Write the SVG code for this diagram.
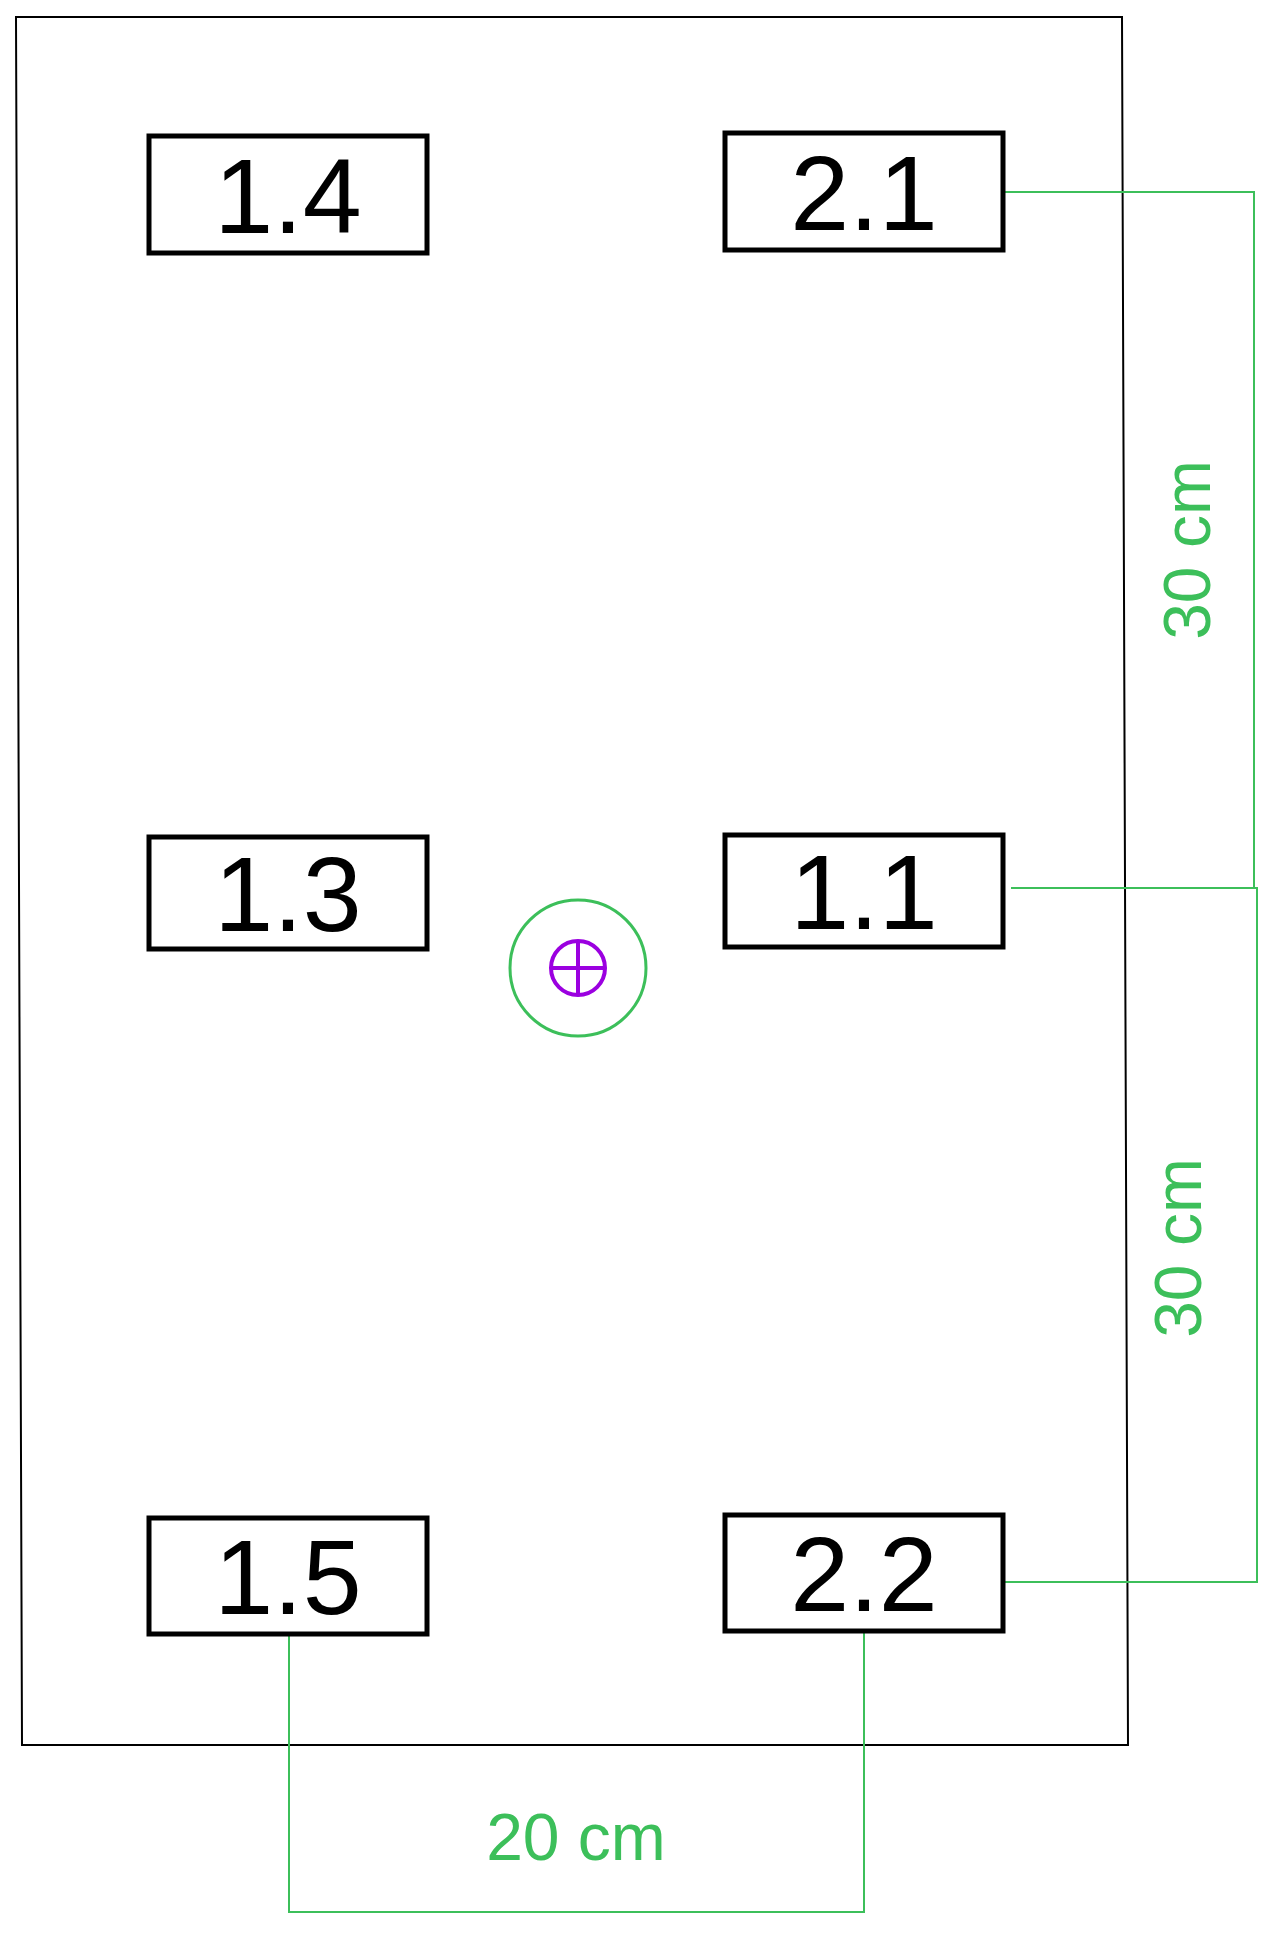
<svg xmlns="http://www.w3.org/2000/svg" width="1276" height="1936" viewBox="0 0 1276 1936">
<style>
.box{fill:#fff;stroke:#000;stroke-width:5}
.lbl{font-family:"Liberation Sans",Arial,sans-serif;font-size:106px;fill:#000;text-anchor:middle}
.dim{fill:none;stroke:#3cbf5a;stroke-width:2}
.dt{font-family:"Liberation Sans",Arial,sans-serif;font-size:66px;fill:#3cbf5a;text-anchor:middle}
</style>
<rect width="1276" height="1936" fill="#fff"/>
<polygon points="16,17 1122,17 1128,1745 22,1745" fill="none" stroke="#000" stroke-width="2"/>
<g id="connectors">
<polyline class="dim" points="1003,192 1254,192 1254,888"/>
<polyline class="dim" points="1011,888 1257,888 1257,1582 1003,1582"/>
<polyline class="dim" points="289,1634 289,1912 864,1912 864,1631"/>
</g>
<g id="n14"><rect class="box" x="149" y="136" width="278" height="117"/><text class="lbl" x="288" y="233">1.4</text></g>
<g id="n21"><rect class="box" x="725" y="133" width="278" height="117"/><text class="lbl" x="864" y="230">2.1</text></g>
<g id="n13"><rect class="box" x="149" y="837" width="278" height="112"/><text class="lbl" x="288" y="931">1.3</text></g>
<g id="n11"><rect class="box" x="725" y="835" width="278" height="112"/><text class="lbl" x="864" y="929">1.1</text></g>
<g id="n15"><rect class="box" x="149" y="1518" width="278" height="116"/><text class="lbl" x="288" y="1614">1.5</text></g>
<g id="n22"><rect class="box" x="725" y="1515" width="278" height="116"/><text class="lbl" x="864" y="1611">2.2</text></g>
<g id="center">
<circle cx="578" cy="968" r="68" fill="none" stroke="#3cbf5a" stroke-width="3"/>
<circle cx="578" cy="968" r="27" fill="none" stroke="#9b00e0" stroke-width="4"/>
<line x1="551" y1="968" x2="605" y2="968" stroke="#9b00e0" stroke-width="4"/>
<line x1="578" y1="941" x2="578" y2="995" stroke="#9b00e0" stroke-width="4"/>
</g>
<text class="dt" transform="translate(1210,550) rotate(-90)">30 cm</text>
<text class="dt" transform="translate(1201,1248) rotate(-90)">30 cm</text>
<text class="dt" x="576" y="1860">20 cm</text>
</svg>
